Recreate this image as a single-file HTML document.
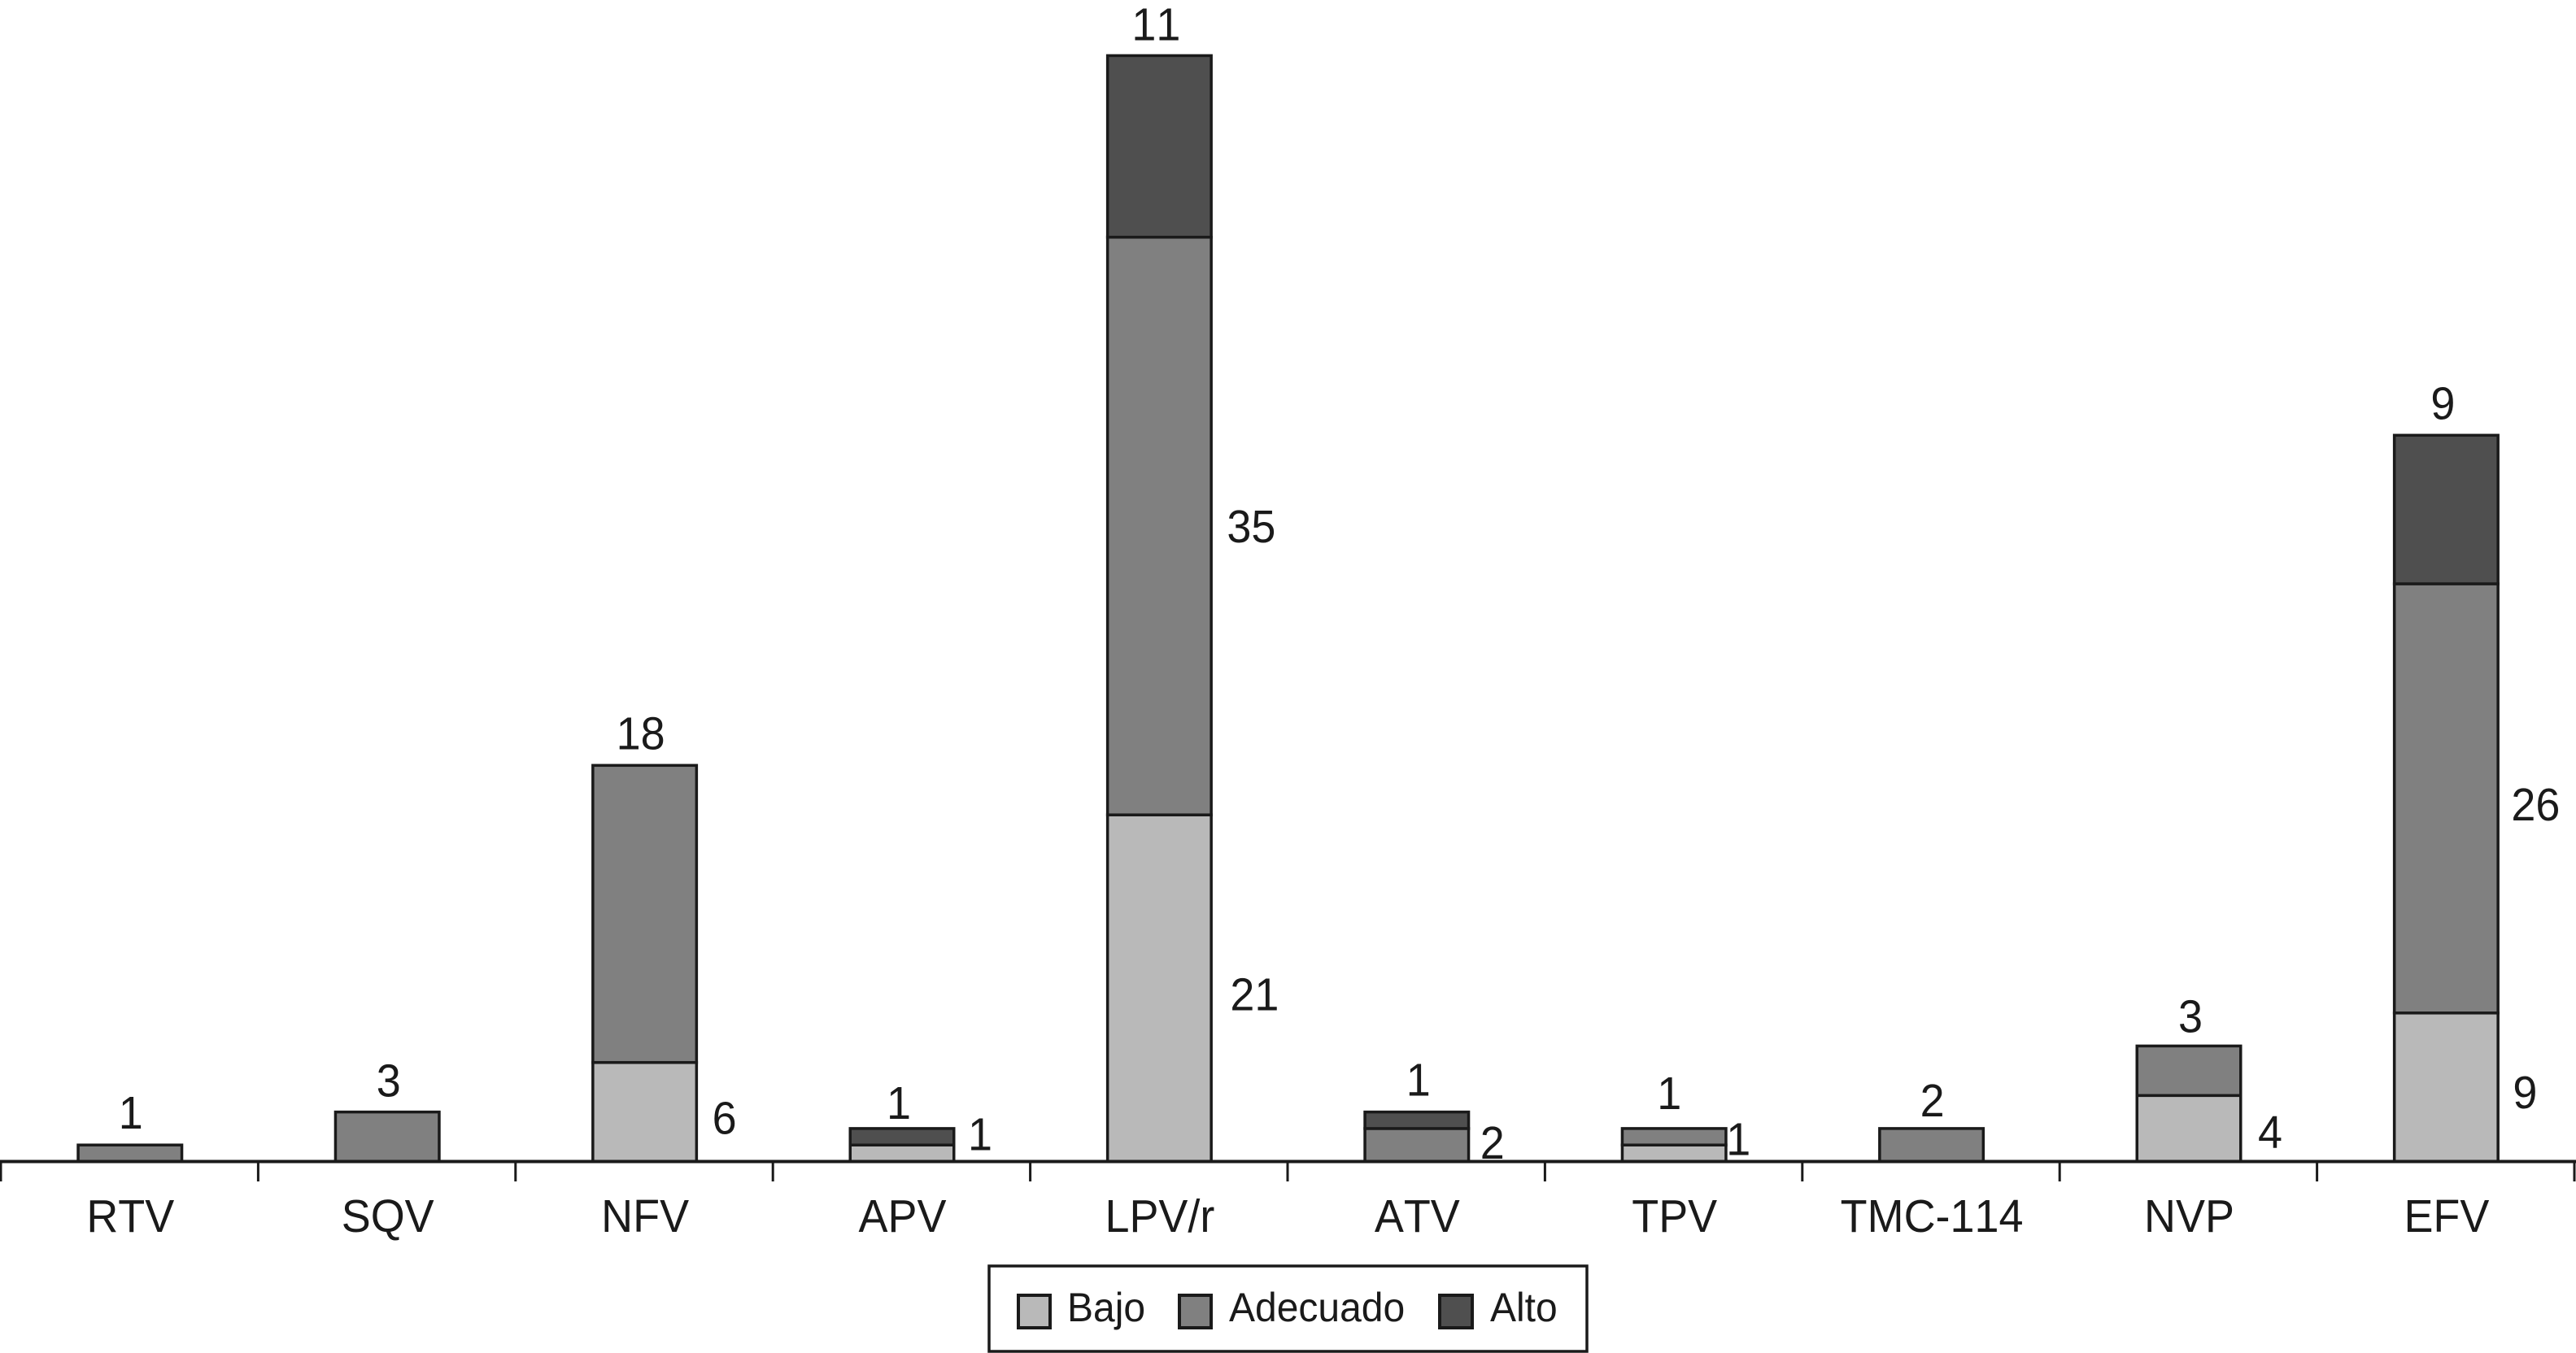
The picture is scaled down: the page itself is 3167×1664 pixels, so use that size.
<!DOCTYPE html>
<html lang="es">
<head>
<meta charset="utf-8">
<title>Stacked bar chart</title>
<style>
html,body{margin:0;padding:0;background:#fff;width:3167px;height:1664px;overflow:hidden}
svg{display:block}
text{font-family:"Liberation Sans",Arial,sans-serif;fill:#1a1a1a;font-kerning:none}
.val,.cat{font-size:56.5px;text-anchor:middle}
.leg{font-size:50px}
</style>
</head>
<body>
<svg id="chart" xmlns="http://www.w3.org/2000/svg" width="3167" height="1664" viewBox="0 0 3167 1664">
  <rect x="0" y="0" width="3167" height="1664" fill="#fff"/>
  <g id="bars"></g>
  <g id="value-labels"></g>
  <g id="axis"></g>
  <g>
    <rect x="1216" y="1557" width="735" height="105" fill="#fff" stroke="#1a1a1a" stroke-width="3.5"/>
    <g>
      <rect x="1252" y="1593" width="39" height="40" fill="#b9b9b9" stroke="#1a1a1a" stroke-width="4"/>
      <text class="leg" transform="translate(1312 1625) scale(.96 1)">Bajo</text>
    </g>
    <g>
      <rect x="1450" y="1593" width="39" height="40" fill="#808080" stroke="#1a1a1a" stroke-width="4"/>
      <text class="leg" transform="translate(1511 1625) scale(.96 1)">Adecuado</text>
    </g>
    <g>
      <rect x="1770" y="1593" width="40" height="40" fill="#4f4f4f" stroke="#1a1a1a" stroke-width="4"/>
      <text class="leg" transform="translate(1832 1625) scale(.96 1)">Alto</text>
    </g>
  </g>
</svg>
<script>
const categories = ["RTV","SQV","NFV","APV","LPV/r","ATV","TPV","TMC-114","NVP","EFV"];
const bajo     = [0,0,6,1,21,0,1,0,4,9];
const adecuado = [1,3,18,0,35,2,1,2,3,26];
const alto     = [0,0,0,1,11,1,0,0,0,9];

const NS = "http://www.w3.org/2000/svg";
const baseY = 1428.5, unit = 20.3, slot = 316.4, firstCenter = 159.8, barWidth = 127.5;
const tickStart = 1, tickStep = 316.4;
const textSqueeze = 0.955;
const xCenter = i => firstCenter + slot * i;
const yValue = v => baseY - v * unit;

const seriesList = [
  { key: "bajo", values: bajo, fill: "#b9b9b9" },
  { key: "adecuado", values: adecuado, fill: "#808080" },
  { key: "alto", values: alto, fill: "#4f4f4f" }
];

/* Small hand-placement nudges for individual printed labels (dx, dy), keyed by category and series */
const nudges = {
  "RTV-adecuado": [1, 0], "SQV-adecuado": [1.5, 1], "NFV-adecuado": [-5, 0], "APV-alto": [-4, 8], "LPV/r-alto": [-4, 1],
  "ATV-alto": [2, 0], "TPV-adecuado": [-6, -4], "TMC-114-adecuado": [1, 5], "NVP-adecuado": [2, 3], "EFV-alto": [-4, 0],
  "NFV-bajo": [0, 0], "APV-bajo": [-2, -31], "LPV/r-adecuado": [15, -7], "LPV/r-bajo": [19, 0],
  "ATV-adecuado": [-5, -10], "TPV-bajo": [-19, -25], "NVP-bajo": [2, -3], "EFV-bajo": [-1, -1], "EFV-adecuado": [12, 0]
};

const bars = document.getElementById("bars");
const labels = document.getElementById("value-labels");
const axis = document.getElementById("axis");

categories.forEach((cat, i) => {
  let cum = 0;
  const segs = [];
  seriesList.forEach(s => {
    const v = s.values[i];
    if (v > 0) { segs.push({ s, v, from: cum, to: cum + v }); cum += v; }
  });
  segs.forEach((seg, k) => {
    const r = document.createElementNS(NS, "rect");
    r.setAttribute("x", xCenter(i) - barWidth / 2);
    r.setAttribute("y", yValue(seg.to));
    r.setAttribute("width", barWidth);
    r.setAttribute("height", yValue(seg.from) - yValue(seg.to));
    r.setAttribute("fill", seg.s.fill);
    r.setAttribute("stroke", "#1a1a1a");
    r.setAttribute("stroke-width", "3.5");
    
    
    bars.appendChild(r);

    const isTop = k === segs.length - 1;
    const n = nudges[cat + "-" + seg.s.key] || [0, 0];
    const t = document.createElementNS(NS, "text");
    t.setAttribute("class", "val");
    const lx = isTop ? xCenter(i) + n[0] : xCenter(i) + 98 + n[0];
    const ly = isTop ? yValue(seg.to) - 20 + n[1] : (yValue(seg.from) + yValue(seg.to)) / 2 + 27 + n[1];
    t.setAttribute("transform", "translate(" + lx + " " + ly + ") scale(" + textSqueeze + " 1)");
    t.textContent = String(seg.v);
    
    
    labels.appendChild(t);
  });

  const c = document.createElementNS(NS, "text");
  c.setAttribute("class", "cat");
  c.setAttribute("transform", "translate(" + (xCenter(i) + 0.5) + " 1515) scale(" + textSqueeze + " 1)");
  c.textContent = cat;
  
  
  axis.appendChild(c);
});

const line = document.createElementNS(NS, "line");
line.setAttribute("x1", 0);
line.setAttribute("x2", 3167);
line.setAttribute("y1", baseY);
line.setAttribute("y2", baseY);
line.setAttribute("stroke", "#1a1a1a");
line.setAttribute("stroke-width", "4");


axis.appendChild(line);

for (let i = 0; i <= categories.length; i++) {
  const x = tickStart + tickStep * i;
  const tick = document.createElementNS(NS, "line");
  tick.setAttribute("x1", x);
  tick.setAttribute("x2", x);
  tick.setAttribute("y1", baseY);
  tick.setAttribute("y2", 1453);
  tick.setAttribute("stroke", "#1a1a1a");
  tick.setAttribute("stroke-width", "3");
  
  
  axis.appendChild(tick);
}
</script>
</body>
</html>
